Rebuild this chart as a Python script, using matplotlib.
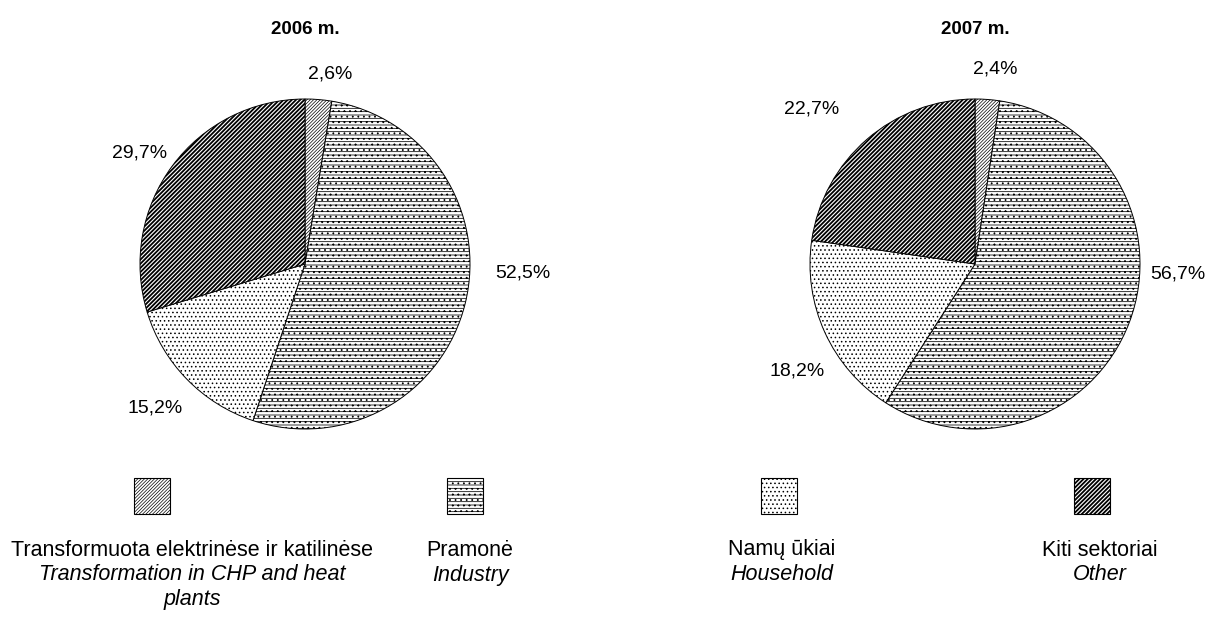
import matplotlib
matplotlib.use('Agg')
import matplotlib.pyplot as plt
from matplotlib.patches import Rectangle

plt.rcParams['font.family'] = ['Liberation Sans', 'DejaVu Sans']
plt.rcParams['hatch.linewidth'] = 0.6

# Data
years = ['2006 m.', '2007 m.']
shares_2006 = [2.6, 52.5, 15.2, 29.7]
shares_2007 = [2.4, 56.7, 18.2, 22.7]
labels_lt = ['Transformuota elektrinėse ir katilinėse', 'Pramonė',
             'Namų ūkiai', 'Kiti sektoriai']
labels_en = ['Transformation in CHP and heat\nplants', 'Industry',
             'Household', 'Other']

hatches = ['//////////', '-----...', '....', '////////']
hatch_lw = [0.5, 0.55, 0.6, 1.3]


def style_patch(p, h, lw):
    p.set_hatch(h)
    if hasattr(p, 'set_hatch_linewidth'):
        p.set_hatch_linewidth(lw)


W, H = 1208, 622
fig = plt.figure(figsize=(W / 100, H / 100), dpi=100)

# pie centres in pixels, radius in pixels
centres = [(305, 264), (975, 264)]
radius = 165
# label offsets in units of radius
label_pos = [
    [(0.15, 1.15), (1.32, -0.055), (-0.91, -0.87), (-1.0, 0.67)],
    [(0.12, 1.18), (1.23, -0.06), (-1.08, -0.65), (-0.99, 0.94)],
]

for i, shares in enumerate([shares_2006, shares_2007]):
    cx, cy = centres[i]
    ax = fig.add_axes([(cx - radius) / W, (H - cy - radius) / H,
                       2 * radius / W, 2 * radius / H])
    wedges, _ = ax.pie(shares, startangle=90, counterclock=False,
                       colors=['white'] * 4,
                       wedgeprops=dict(edgecolor='black', linewidth=0.7))
    for w, h, lw in zip(wedges, hatches, hatch_lw):
        style_patch(w, h, lw)
    ax.set_xlim(-1, 1)
    ax.set_ylim(-1, 1)
    ax.set_aspect('equal')
    ax.axis('off')
    for s, (lx, ly) in zip(shares, label_pos[i]):
        ax.text(lx, ly, f'{s:.1f}%'.replace('.', ','), ha='center',
                va='center', fontsize=14)
    ax.text(0, 1.42, years[i], ha='center', va='center', fontsize=13.5,
            fontweight='bold')

# Legend drawn by hand: box above caption lines
box_x = [152, 465, 779, 1092]
text_x = [192, 470, 782, 1100]
box = 36
for k in range(4):
    bx, tx = box_x[k], text_x[k]
    r = Rectangle(((bx - box / 2) / W, (H - 514) / H), box / W, box / H,
                  transform=fig.transFigure, facecolor='white',
                  edgecolor='black', linewidth=0.8)
    style_patch(r, hatches[k], hatch_lw[k])
    fig.patches.append(r)
    fig.text(tx / W, (H - 550) / H, labels_lt[k], ha='center', va='center',
             fontsize=15.5)
    for j, line in enumerate(labels_en[k].split('\n')):
        fig.text(tx / W, (H - 575 - 25 * j) / H, line, ha='center',
                 va='center', fontsize=15.5, style='italic')

fig.savefig('out.png', dpi=100)
